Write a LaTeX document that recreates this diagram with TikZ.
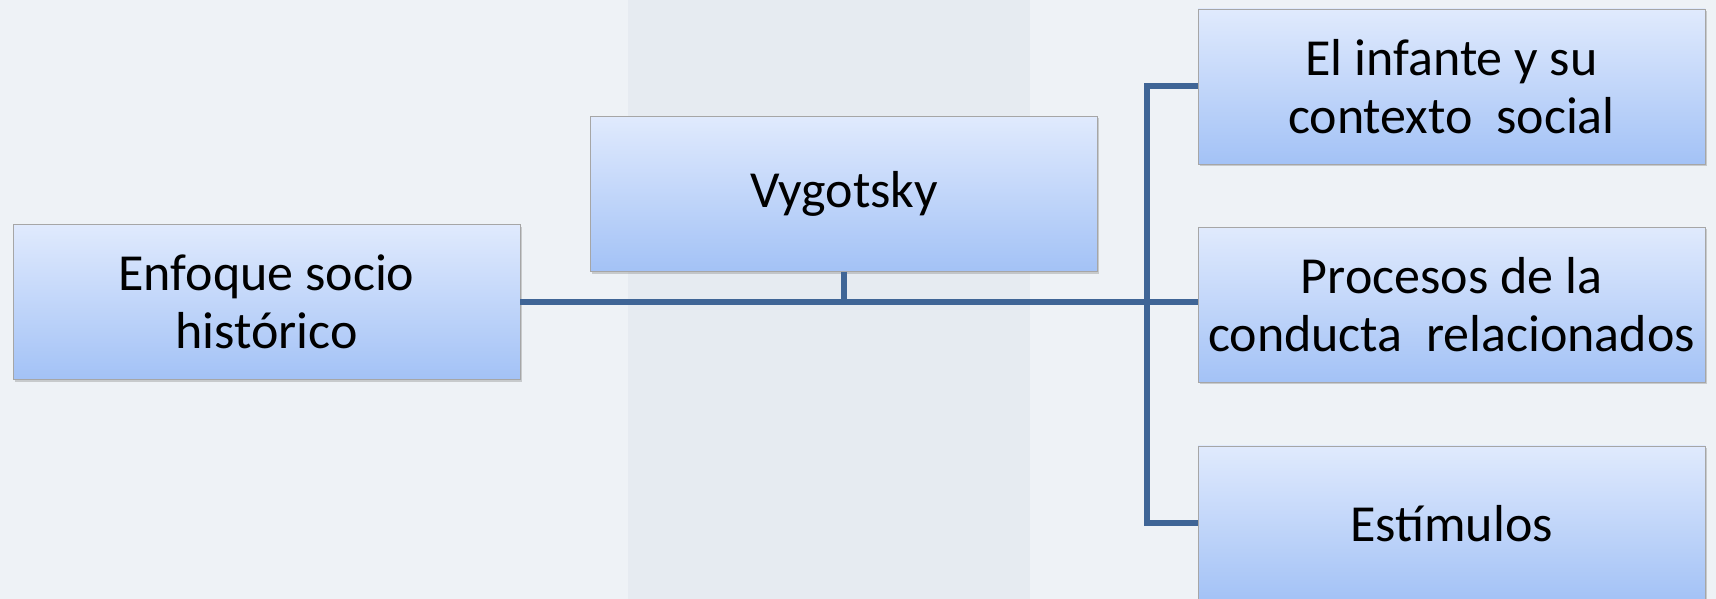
\documentclass[tikz,border=0pt]{standalone}
\usepackage{fontspec}
\setmainfont{Carlito}
\usetikzlibrary{positioning,shadows}
\definecolor{boxtop}{RGB}{224,234,253}
\definecolor{boxbot}{RGB}{163,194,246}
\definecolor{linkblue}{RGB}{63,101,150}
\definecolor{paper}{RGB}{238,242,246}
\definecolor{pillar}{RGB}{230,235,241}

\begin{document}
\begin{tikzpicture}[x=1pt,y=-1pt]
\tikzstyle{topic}=[rectangle, minimum width=507pt, minimum height=155pt, inner sep=0pt, align=center, draw=black!35, top color=boxtop, bottom color=boxbot, drop shadow={opacity=0.35,shadow xshift=1.5pt,shadow yshift=-2pt}, font=\fontsize{52}{58}\selectfont, node distance=63pt]
\tikzstyle{link}=[draw=linkblue, line width=6pt]
  \useasboundingbox (0,0) rectangle (1716,599);
  \fill[paper] (0,0) rectangle (1716,599);
  \fill[pillar] (628,0) rectangle (1030,599);

  \node[topic] (vyg) at (844,194) {Vygotsky};
  \node[topic] (enfoque) at (266.5,302) {Enfoque socio\\histórico};
  \node[topic] (infante) at (1451.5,86.5) {El infante y su\\contexto\ \ social};
  \node[topic, below=of infante] (procesos) {Procesos de la\\conducta\ \ relacionados};
  \node[topic, below=of procesos] (estimulos) {Estímulos};

  \coordinate (hub) at ([xshift=-51pt]infante.west |- enfoque.east);
  \draw[link] (enfoque.east) -- (hub);
  \draw[link] (vyg.south) -- (vyg.south |- hub);
  \draw[link] (infante.west) -| (hub) |- (estimulos.west);
  \draw[link] (hub) -- (hub -| procesos.west);
\end{tikzpicture}
\end{document}
